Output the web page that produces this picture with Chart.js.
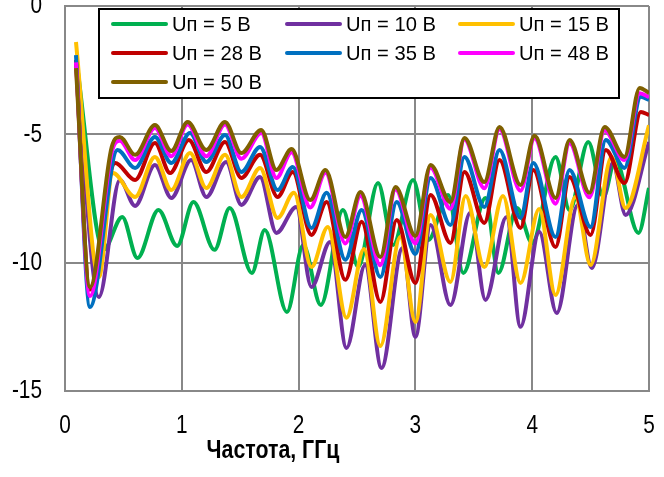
<!DOCTYPE html>
<html><head><meta charset="utf-8">
<script src="https://cdn.jsdelivr.net/npm/chart.js@4.4.1/dist/chart.umd.min.js"></script>
<style>html,body{margin:0;padding:0;background:#fff;overflow:hidden}canvas{display:block}</style>
</head><body>
<canvas id="c" width="664" height="477"></canvas>
<script>
const FONT = "'Liberation Sans',Arial,sans-serif";
const labels = ['Uп = 5 В','Uп = 10 В','Uп = 15 В','Uп = 28 В','Uп = 35 В','Uп = 48 В','Uп = 50 В'];
const colors = ['#00B050','#7030A0','#FFC000','#C00000','#0070C0','#FF00FF','#7F6000'];
const xTitle = 'Частота, ГГц';
const xTicks = [0,1,2,3,4,5];
const yTicks = [-15,-10,-5,0];

// 5 V
const f5 = [0.10,0.33,0.49,0.62,0.80,0.96,1.10,1.28,1.41,1.60,1.71,1.90,2.04,2.19,2.38,2.51,2.68,2.81,2.98,3.11,3.28,3.41,3.60,3.71,3.87,4.00,4.20,4.32,4.48,4.61,4.71,4.91,5.00];
const v5 = [-2.2,-9.5,-8.22,-9.82,-7.95,-9.35,-7.64,-9.5,-7.87,-10.4,-8.73,-11.92,-9.31,-11.65,-7.95,-10.17,-6.9,-9.31,-6.78,-9.12,-7.36,-10.4,-7.48,-10.4,-7.87,-9.23,-5.88,-7.95,-5.3,-7.44,-6.0,-8.84,-7.09];
// 10 V
const f10 = [0.094,0.29,0.47,0.60,0.77,0.91,1.08,1.21,1.38,1.51,1.67,1.81,1.98,2.11,2.27,2.41,2.57,2.71,2.89,3.00,3.13,3.30,3.47,3.60,3.78,3.90,4.06,4.21,4.39,4.51,4.69,4.80,5.00];
const v10 = [-2.2,-11.34,-6.78,-7.79,-6.19,-7.48,-6.0,-7.44,-6.08,-7.75,-6.66,-8.84,-7.83,-10.95,-9.19,-13.32,-10.09,-14.1,-9.43,-12.89,-8.53,-11.65,-8.06,-11.45,-8.22,-12.5,-8.8,-11.96,-7.75,-10.21,-6.12,-8.14,-5.3];
// 15 V
const f15 = [0.094,0.29,0.41,0.60,0.77,0.91,1.07,1.21,1.37,1.51,1.67,1.82,1.96,2.11,2.25,2.41,2.56,2.70,2.87,3.00,3.13,3.30,3.43,3.59,3.75,3.90,4.06,4.20,4.37,4.50,4.68,4.80,5.00];
const v15 = [-1.4,-10.56,-6.51,-7.44,-5.88,-7.17,-5.73,-7.09,-5.8,-7.44,-6.31,-8.26,-7.28,-10.17,-8.61,-12.15,-9.47,-13.25,-9.0,-12.31,-8.14,-10.75,-7.4,-10.17,-7.4,-10.79,-7.91,-11.26,-7.44,-10.09,-5.88,-7.87,-4.65];
// 28 V
const f28 = [0.094,0.214,0.43,0.60,0.77,0.90,1.06,1.21,1.37,1.51,1.67,1.82,1.95,2.11,2.24,2.40,2.54,2.70,2.84,3.00,3.13,3.30,3.42,3.59,3.72,3.90,4.01,4.20,4.32,4.50,4.63,4.79,4.93,5.00];
const v28 = [-2.1,-11.05,-6.12,-6.78,-5.34,-6.51,-5.22,-6.47,-5.3,-6.7,-5.8,-7.44,-6.47,-8.92,-7.64,-10.67,-8.41,-11.53,-8.34,-10.79,-7.36,-9.23,-6.47,-8.45,-6.0,-8.65,-6.39,-9.39,-6.66,-8.92,-5.61,-6.9,-4.13,-4.25];
// 35 V
const f35 = [0.094,0.214,0.45,0.60,0.77,0.91,1.07,1.21,1.37,1.51,1.67,1.82,1.95,2.11,2.24,2.40,2.54,2.70,2.84,3.00,3.13,3.30,3.42,3.59,3.72,3.90,4.01,4.20,4.32,4.50,4.63,4.79,4.93,5.00];
const v35 = [-1.91,-11.73,-5.61,-6.31,-5.1,-6.12,-4.95,-6.08,-5.03,-6.47,-5.49,-7.17,-6.27,-8.65,-7.28,-9.89,-7.95,-10.56,-7.64,-9.66,-6.7,-8.53,-5.88,-7.83,-5.61,-8.26,-6.12,-9.0,-6.39,-8.61,-5.22,-6.31,-3.54,-3.66];
// 48 V
const f48 = [0.094,0.214,0.40,0.47,0.60,0.77,0.91,1.05,1.21,1.37,1.51,1.68,1.81,1.94,2.10,2.23,2.40,2.53,2.70,2.83,3.00,3.13,3.30,3.42,3.59,3.72,3.90,4.02,4.20,4.32,4.49,4.62,4.79,4.92,5.00];
const v48 = [-2.2,-11.3,-5.7,-5.25,-6.0,-4.75,-5.85,-4.62,-5.85,-4.62,-5.95,-4.95,-6.7,-5.7,-7.85,-6.5,-9.25,-7.4,-10.1,-7.15,-9.25,-6.3,-7.9,-5.2,-7.1,-4.8,-7.2,-5.15,-7.7,-5.35,-7.45,-4.85,-6.0,-3.4,-3.55];
// 50 V
const f50 = [0.094,0.214,0.40,0.47,0.60,0.77,0.91,1.05,1.21,1.37,1.51,1.68,1.81,1.94,2.10,2.23,2.40,2.53,2.70,2.83,3.00,3.13,3.30,3.42,3.59,3.72,3.90,4.02,4.20,4.32,4.49,4.62,4.79,4.92,5.00];
const v50 = [-2.42,-10.95,-5.49,-5.1,-5.8,-4.64,-5.65,-4.52,-5.61,-4.52,-5.73,-4.83,-6.39,-5.57,-7.56,-6.39,-9.0,-7.25,-9.78,-7.05,-8.96,-6.19,-7.64,-5.14,-6.86,-4.71,-6.97,-5.06,-7.48,-5.22,-7.28,-4.71,-5.88,-3.19,-3.39];

const series = [[f5,v5],[f10,v10],[f15,v15],[f28,v28],[f35,v35],[f48,v48],[f50,v50]];

const datasets = series.map((s,i)=>({
  label: labels[i],
  data: s[0].map((x,j)=>({x:x, y:s[1][j]})),
  borderColor: colors[i],
  backgroundColor: colors[i],
  borderWidth: 4,
  pointRadius: 0,
  fill: false,
  cubicInterpolationMode: 'monotone',
  order: series.length - i
}));

// condense text horizontally (reference uses a narrow face)
function condensedText(ctx, text, x, y, k) {
  ctx.save();
  ctx.translate(x, y);
  ctx.scale(k, 1);
  ctx.fillText(text, 0, 0);
  ctx.restore();
}

const narrowTicks = {
  id: 'narrowTicks',
  beforeDraw(chart) {
    const ctx = chart.ctx;
    if (ctx._origFill) return;
    const orig = ctx.fillText;
    ctx._origFill = orig;
    ctx.fillText = function(t, x, y, mw) {
      this.save(); this.translate(x, y); this.scale(0.8, 1);
      orig.call(this, t, 0, 0);
      this.restore();
    };
  },
  beforeDatasetsDraw(chart) {
    const ctx = chart.ctx;
    if (ctx._origFill) { ctx.fillText = ctx._origFill; ctx._origFill = null; }
  }
};

const legendPlugin = {
  id: 'boxLegend',
  afterDraw(chart) {
    const ctx = chart.ctx;
    ctx.save();
    const bx = 99, by = 9, bw = 520, bh = 89;
    ctx.fillStyle = '#fff';
    ctx.fillRect(bx, by, bw, bh);
    ctx.strokeStyle = '#000';
    ctx.lineWidth = 2;
    ctx.strokeRect(bx, by, bw, bh);
    const colX = [113, 287, 460];
    const rowY = [24, 53, 82];
    ctx.font = '21px ' + FONT;
    ctx.textBaseline = 'middle';
    ctx.textAlign = 'left';
    chart.data.datasets.forEach((d, i) => {
      const cx = colX[i % 3], cy = rowY[Math.floor(i / 3)];
      ctx.strokeStyle = d.borderColor;
      ctx.lineWidth = 4;
      ctx.lineCap = 'round';
      ctx.beginPath();
      ctx.moveTo(cx, cy);
      ctx.lineTo(cx + 53, cy);
      ctx.stroke();
      ctx.fillStyle = '#000';
      condensedText(ctx, d.label, cx + 59, cy + 1, 0.96);
    });
    ctx.font = 'bold 26px ' + FONT;
    ctx.textAlign = 'center';
    ctx.textBaseline = 'middle';
    condensedText(ctx, xTitle, 273, 451, 0.82);
    ctx.restore();
  }
};

new Chart(document.getElementById('c'), {
  type: 'line',
  data: { datasets },
  options: {
    responsive: false,
    animation: false,
    devicePixelRatio: 1,
    layout: { padding: { left: 0, right: 15, top: 6, bottom: 0 } },
    plugins: { legend: { display: false }, tooltip: { enabled: false } },
    scales: {
      x: {
        type: 'linear', min: 0, max: 5,
        afterBuildTicks: s => { s.ticks = xTicks.map(v => ({ value: v })); },
        ticks: { color: '#000', font: { family: FONT, size: 26 }, padding: 19, maxRotation: 0 },
        grid: { color: '#888', lineWidth: 2, drawTicks: false, tickLength: 0 },
        border: { color: '#888', width: 2 },
        afterFit: s => { s.height = 86; s.paddingLeft = 0; s.paddingRight = 0; }
      },
      y: {
        type: 'linear', min: -15, max: 0,
        afterBuildTicks: s => { s.ticks = yTicks.map(v => ({ value: v })); },
        ticks: { color: '#000', font: { family: FONT, size: 26 }, padding: 23 },
        grid: { color: '#888', lineWidth: 2, drawTicks: false, tickLength: 0 },
        border: { color: '#888', width: 2 },
        afterFit: s => { s.width = 65; s.paddingTop = 0; s.paddingBottom = 0; }
      }
    }
  },
  plugins: [narrowTicks, legendPlugin]
});
</script>
</body></html>
